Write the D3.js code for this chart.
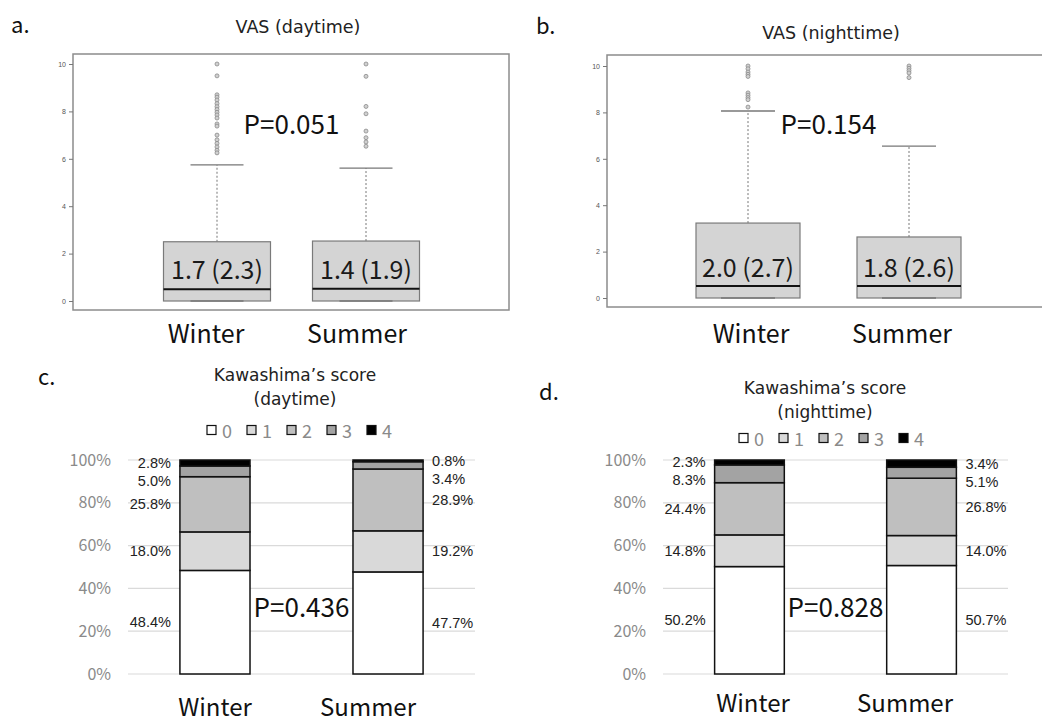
<!DOCTYPE html>
<html>
<head>
<meta charset="utf-8">
<script src="https://cdn.jsdelivr.net/npm/d3@7"></script>
<style>
  html, body { margin: 0; padding: 0; background: #fff; }
  svg { display: block; font-family: "Noto Sans CJK JP", "Noto Sans", sans-serif; }
</style>
</head>
<body>
<svg id="chart" width="1042" height="725"></svg>
<script>
// ---- VAS box plots ----
const seasons = ["Winter", "Summer"];
const vasTicks = [0, 2, 4, 6, 8, 10];

const dayQ1 = [0, 0];
const dayMedian = [0.5, 0.52];
const dayQ3 = [2.5, 2.53];
const dayWhiskerLow = [0, 0];
const dayWhiskerHigh = [5.74, 5.61];
const dayMean = [1.7, 1.4];
const daySD = [2.3, 1.9];
const dayOutliers = [
  [10, 9.5, 8.7, 8.6, 8.48, 8.33, 8.2, 8.08, 7.96, 7.85, 7.72, 7.47, 7.38, 7.0, 6.8, 6.65, 6.5, 6.36, 6.25],
  [10, 9.48, 8.21, 7.9, 7.17, 6.89, 6.71, 6.53]
];
const dayP = "P=0.051";

const nightQ1 = [0, 0];
const nightMedian = [0.52, 0.52];
const nightQ3 = [3.23, 2.63];
const nightWhiskerLow = [0, 0];
const nightWhiskerHigh = [8.06, 6.55];
const nightMean = [2.0, 1.8];
const nightSD = [2.7, 2.6];
const nightOutliers = [
  [10, 9.88, 9.74, 9.64, 9.55, 8.84, 8.74, 8.64, 8.55, 8.23],
  [10, 9.9, 9.8, 9.7, 9.5]
];
const nightP = "P=0.154";

// ---- Kawashima's score stacked bars (percent of patients) ----
const scoreLevels = ["0", "1", "2", "3", "4"];
const scoreColors = ["#ffffff", "#d9d9d9", "#bfbfbf", "#a3a3a3", "#000000"];
const pctTicks = [0, 0.2, 0.4, 0.6, 0.8, 1.0];

const kawaDayWinter = [48.4, 18.0, 25.8, 5.0, 2.8];
const kawaDaySummer = [47.7, 19.2, 28.9, 3.4, 0.8];
const kawaDayP = "P=0.436";

const kawaNightWinter = [50.2, 14.8, 24.4, 8.3, 2.3];
const kawaNightSummer = [50.7, 14.0, 26.8, 5.1, 3.4];
const kawaNightP = "P=0.828";

const svg = d3.select("#chart");
const wideFont = "DejaVu Sans, Verdana, sans-serif";
const labelFont = "Liberation Sans, Arial, sans-serif";

// ---------------- box plot panel ----------------
function boxPanel(o) {
  const g = svg.append("g");
  const y = d3.scaleLinear().domain([0, 10]).range([o.y0, o.y10]);
  const x = d3.scalePoint().domain(seasons).range(o.centers);
  const xLab = d3.scalePoint().domain(seasons).range(o.labelCenters);

  // frame
  g.append("rect")
    .attr("x", o.frame[0]).attr("y", o.frame[1])
    .attr("width", o.frame[2] - o.frame[0]).attr("height", o.frame[3] - o.frame[1])
    .attr("fill", "none").attr("stroke", "#8c8c8c").attr("stroke-width", 1.5);

  // axis
  const ax = g.append("g")
    .attr("transform", `translate(${o.frame[0]},0)`)
    .call(d3.axisLeft(y).tickValues(vasTicks).tickSize(4).tickPadding(3));
  ax.select(".domain").remove();
  ax.selectAll(".tick line").attr("stroke", "#777");
  ax.selectAll(".tick text").attr("fill", "#555").style("font-size", "7px")
    .style("font-family", labelFont);

  const hw = o.boxWidth / 2;
  const cap = o.capWidth / 2;
  seasons.forEach((s, i) => {
    const cx = x(s);
    // whisker
    g.append("line")
      .attr("x1", cx).attr("x2", cx)
      .attr("y1", y(o.q3[i])).attr("y2", y(o.hi[i]))
      .attr("stroke", "#777").attr("stroke-width", 1).attr("stroke-dasharray", "2,2");
    g.append("line")
      .attr("x1", cx - cap).attr("x2", cx + cap)
      .attr("y1", y(o.hi[i])).attr("y2", y(o.hi[i]))
      .attr("stroke", "#777").attr("stroke-width", 1.3);
    // box
    g.append("rect")
      .attr("x", cx - hw).attr("width", o.boxWidth)
      .attr("y", y(o.q3[i])).attr("height", y(o.q1[i]) - y(o.q3[i]))
      .attr("fill", "#d4d4d4").attr("stroke", "#7a7a7a").attr("stroke-width", 1.2);
    // lower whisker cap
    g.append("line")
      .attr("x1", cx - cap).attr("x2", cx + cap)
      .attr("y1", y(o.lo[i])).attr("y2", y(o.lo[i]))
      .attr("stroke", "#777").attr("stroke-width", 1.3);
    // median
    g.append("line")
      .attr("x1", cx - hw).attr("x2", cx + hw)
      .attr("y1", y(o.med[i])).attr("y2", y(o.med[i]))
      .attr("stroke", "#111").attr("stroke-width", 2);
    // outliers
    g.selectAll(null).data(o.out[i]).enter().append("circle")
      .attr("cx", cx).attr("cy", v => y(v)).attr("r", 2)
      .attr("fill", "#d0d0d0").attr("stroke", "#8a8a8a").attr("stroke-width", 0.8);
    // mean (SD) label
    g.append("text")
      .attr("x", cx).attr("y", y(1.4))
      .attr("text-anchor", "middle").attr("dominant-baseline", "central")
      .style("font-size", "25px").attr("fill", "#1a1a1a")
      .text(`${o.mean[i].toFixed(1)} (${o.sd[i].toFixed(1)})`);
    // category label
    g.append("text")
      .attr("x", xLab(s)).attr("y", o.catY)
      .attr("text-anchor", "middle")
      .style("font-size", "25px").attr("fill", "#111")
      .text(s);
  });

  g.append("text")
    .attr("x", (x(seasons[0]) + x(seasons[1])) / 2).attr("y", y(7.55))
    .attr("text-anchor", "middle").attr("dominant-baseline", "central")
    .style("font-size", "26px").attr("fill", "#111").text(o.p);

  g.append("text")
    .attr("x", o.titleX).attr("y", o.titleY)
    .attr("text-anchor", "middle").attr("dominant-baseline", "central")
    .style("font-family", wideFont)
    .style("font-size", "17.5px").attr("fill", "#222").text(o.title);

  g.append("text")
    .attr("x", o.letterX).attr("y", o.letterY)
    .style("font-size", "22px").attr("fill", "#111").text(o.letter);
}

boxPanel({
  letter: "a.", letterX: 11, letterY: 33,
  title: "VAS (daytime)", titleX: 298, titleY: 27,
  frame: [73, 54, 509, 310], y0: 301, y10: 64,
  centers: [217, 366], labelCenters: [206, 357], catY: 343,
  boxWidth: 107, capWidth: 53,
  q1: dayQ1, med: dayMedian, q3: dayQ3, lo: dayWhiskerLow, hi: dayWhiskerHigh,
  mean: dayMean, sd: daySD, out: dayOutliers, p: dayP
});

boxPanel({
  letter: "b.", letterX: 536, letterY: 34,
  title: "VAS (nighttime)", titleX: 831, titleY: 33,
  frame: [607, 55, 1050, 307], y0: 298, y10: 66,
  centers: [748, 909], labelCenters: [751, 902], catY: 343,
  boxWidth: 104, capWidth: 54,
  q1: nightQ1, med: nightMedian, q3: nightQ3, lo: nightWhiskerLow, hi: nightWhiskerHigh,
  mean: nightMean, sd: nightSD, out: nightOutliers, p: nightP
});

// ---------------- stacked bar panel ----------------
function stackPanel(o) {
  const g = svg.append("g");
  const y = d3.scaleLinear().domain([0, 1]).range([674, 460]);
  const x = d3.scaleBand().domain(seasons).range(o.gridX).paddingInner(0.595).paddingOuter(0.3);
  const xLab = d3.scalePoint().domain(seasons).range(o.labelCenters);

  // gridlines
  g.selectAll(null).data(pctTicks).enter().append("line")
    .attr("x1", o.gridX[0]).attr("x2", o.gridX[1])
    .attr("y1", d => y(d)).attr("y2", d => y(d))
    .attr("stroke", "#dadada").attr("stroke-width", 1.2);

  // axis labels
  const ax = g.append("g")
    .attr("transform", `translate(${o.tickX},0)`)
    .call(d3.axisLeft(y).tickValues(pctTicks).tickSize(0).tickPadding(0).tickFormat(d3.format(".0%")));
  ax.select(".domain").remove();
  ax.selectAll(".tick text").attr("fill", "#8a8a8a").style("font-size", "16px")
    .style("font-family", "Noto Sans CJK JP, sans-serif");

  const rows = [o.winter, o.summer];
  seasons.forEach((s, i) => {
    const vals = rows[i];
    const stack = d3.stack().keys(d3.range(vals.length))([vals.map(v => v / 100)]);
    const segs = stack.map((layer, k) => ({ k, y0: layer[0][0], y1: layer[0][1], v: vals[k] }));
    g.selectAll(null).data(segs).enter().append("rect")
      .attr("x", x(s)).attr("width", x.bandwidth())
      .attr("y", d => y(d.y1)).attr("height", d => y(d.y0) - y(d.y1))
      .attr("fill", d => scoreColors[d.k])
      .attr("stroke", "#111").attr("stroke-width", 1.5);

    // value labels, pushed apart from the top so they don't overlap
    const ordered = segs.slice().reverse();
    let prev = -Infinity;
    ordered.forEach(d => {
      let py = y((d.y0 + d.y1) / 2);
      if (py < prev + 18) py = prev + 18;
      d.ly = py; prev = py;
    });
    const left = i === 0;
    g.selectAll(null).data(ordered).enter().append("text")
      .attr("x", left ? x(s) - 9 : x(s) + x.bandwidth() + 9)
      .attr("y", d => d.ly)
      .attr("text-anchor", left ? "end" : "start")
      .attr("dominant-baseline", "central")
      .style("font-family", labelFont)
      .style("font-size", "14.5px").attr("fill", "#222")
      .text(d => d.v.toFixed(1) + "%");

    g.append("text")
      .attr("x", xLab(s)).attr("y", o.catY)
      .attr("text-anchor", "middle")
      .style("font-size", "24px").attr("fill", "#111").text(s);
  });

  g.append("text")
    .attr("x", (x(seasons[0]) + x.bandwidth() + x(seasons[1])) / 2).attr("y", y(0.32))
    .attr("text-anchor", "middle").attr("dominant-baseline", "central")
    .style("font-size", "26px").attr("fill", "#111").text(o.p);

  // title
  g.append("text")
    .attr("x", o.titleX).attr("y", o.titleY)
    .attr("text-anchor", "middle").attr("dominant-baseline", "central")
    .style("font-family", wideFont)
    .style("font-size", "17px").attr("fill", "#222").text("Kawashima\u2019s score");
  g.append("text")
    .attr("x", o.titleX).attr("y", o.titleY + 24)
    .attr("text-anchor", "middle").attr("dominant-baseline", "central")
    .style("font-family", wideFont)
    .style("font-size", "17px").attr("fill", "#222").text(o.sub);

  // legend
  const lx = d3.scalePoint().domain(scoreLevels).range([o.legendX, o.legendX + 160]);
  const lg = g.selectAll(null).data(scoreLevels).enter().append("g")
    .attr("transform", d => `translate(${lx(d)},${o.legendY})`);
  lg.append("rect").attr("x", 0).attr("y", -4.5).attr("width", 9).attr("height", 9)
    .attr("fill", (d, k) => scoreColors[k]).attr("stroke", "#111").attr("stroke-width", 1.2);
  lg.append("text").attr("x", 15).attr("y", 0).attr("dominant-baseline", "central")
    .style("font-size", "18px").attr("fill", "#8a8a8a").text(d => d);

  g.append("text")
    .attr("x", o.letterX).attr("y", o.letterY)
    .style("font-size", "22px").attr("fill", "#111").text(o.letter);
}

stackPanel({
  letter: "c.", letterX: 38, letterY: 385,
  sub: "(daytime)", titleX: 295, titleY: 375,
  legendX: 207, legendY: 430,
  gridX: [128, 475], tickX: 111,
  labelCenters: [215, 368], catY: 716,
  winter: kawaDayWinter, summer: kawaDaySummer, p: kawaDayP
});

stackPanel({
  letter: "d.", letterX: 539, letterY: 400,
  sub: "(nighttime)", titleX: 825, titleY: 388,
  legendX: 739, legendY: 438,
  gridX: [663, 1008], tickX: 646,
  labelCenters: [753, 905], catY: 712,
  winter: kawaNightWinter, summer: kawaNightSummer, p: kawaNightP
});
</script>
</body>
</html>
